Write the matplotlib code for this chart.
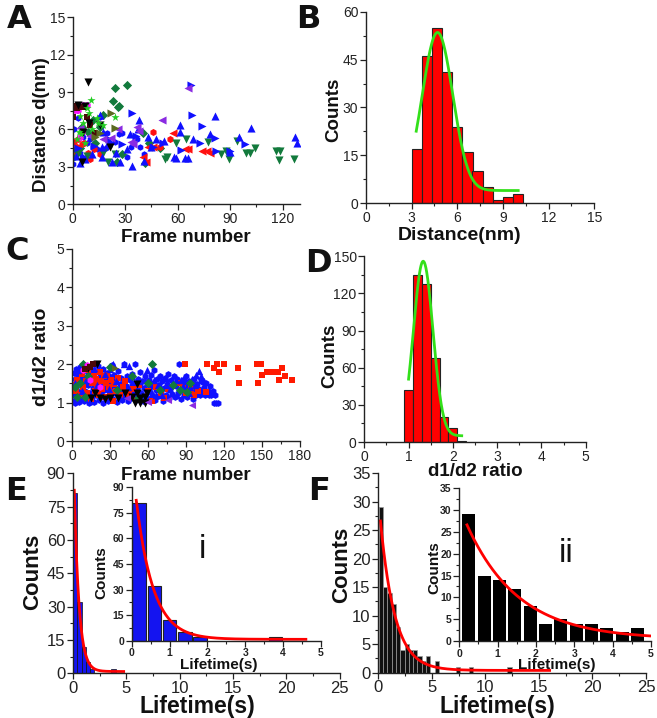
import numpy as np
import matplotlib
matplotlib.use("Agg")
import matplotlib.pyplot as plt
from matplotlib.ticker import MultipleLocator

plt.rcParams['font.family'] = ['Liberation Sans', 'DejaVu Sans']

W, H = 657, 718
fig = plt.figure(figsize=(W / 100, H / 100), dpi=100)

# ---------------- Panel A data (frame number vs distance) ----------------
A_blue_up_x = [34.2, 59.3, 64, 27, 16.5, 22.2, 16.5, 37.4, 37.8, 47.9, 52.5, 57.8, 66, 81.2, 102.1, 127.3, 128.1, 95, 68.8, 61.2, 61.6, 78.3, 89.7, 7, 4.2, 15.6, 17.5, 43.2, 30.8, 45, 25, 40.5, 33, 20, 11, 2]
A_blue_up_y = [3.1, 3.7, 3.7, 3.4, 3.8, 3.4, 4.6, 6.0, 6.8, 5.2, 5.1, 3.8, 3.7, 7.1, 6.1, 5.4, 4.9, 5.4, 5.2, 6.4, 5.8, 5.6, 4.2, 3.6, 3.3, 7.2, 5.8, 5.4, 4.4, 4.6, 4.1, 3.5, 5.6, 4.9, 4.0, 3.9]
A_blue_right_x = [34.2, 67.9, 68.4, 74.1, 81.2, 98.3, 82.1, 89.7, 62.2, 51.7, 72.6, 36, 28, 21, 12, 3, 46]
A_blue_right_y = [7.3, 9.6, 7.2, 6.3, 5.3, 4.8, 4.3, 4.3, 4.35, 4.9, 4.9, 5.5, 4.8, 5.2, 4.7, 4.5, 4.6]
A_blue_dot_x = [0.4, 1.3, 0.8, 2.3, 1.3, 15.6, 26.2, 28, 30.8, 38.4, 36.5, 33.6, 11.8, 13.7, 9.9, 19.4, 21.3, 8, 4.2, 5.1, 0.6, 3, 6, 24, 41, 19]
A_blue_dot_y = [3.2, 3.8, 6.0, 7.6, 7.8, 7.0, 5.6, 5.7, 3.8, 4.6, 5.2, 4.6, 4.6, 4.4, 5.2, 5.7, 4.9, 4.9, 4.1, 3.8, 4.4, 6.9, 5.4, 5.0, 4.0, 4.5]
A_red_dot_x = [3.2, 5.1, 2.3, 8.9, 15.6, 9.9, 46, 49.8, 55.5, 0.5, 1.5, 6.5, 12]
A_red_dot_y = [5.2, 4.8, 4.6, 4.1, 4.0, 3.6, 5.8, 4.6, 5.2, 5.0, 4.3, 4.9, 4.4]
A_red_left_x = [42.2, 43.2, 40.3, 57.4, 65.9, 74.1, 76.8, 78.7, 46, 64]
A_red_left_y = [3.4, 4.6, 3.8, 5.7, 4.4, 4.3, 4.3, 4.1, 4.6, 4.4]
A_green_down_x = [65, 77.3, 85, 89.3, 93.9, 99.2, 101.5, 104, 116.3, 118.8, 117.8, 126.4, 87.8, 20.3, 24.1, 17.5, 52.7, 54, 59.3, 2, 8]
A_green_down_y = [5.2, 5.0, 4.0, 3.6, 5.1, 4.1, 4.1, 4.5, 4.3, 4.3, 3.55, 3.6, 4.3, 3.4, 4.0, 4.1, 3.6, 3.8, 4.9, 4.2, 3.9]
A_green_diam_x = [24, 31, 23, 25.8, 26.5, 17.5, 5.1, 8.9, 12.7, 2.3, 0.4, 40.3, 43.5, 41.3, 25.1, 15.6, 11.8, 4.2, 28, 50]
A_green_diam_y = [9.35, 9.57, 8.3, 7.8, 7.9, 7.2, 6.2, 5.8, 4.9, 4.1, 3.8, 5.7, 4.9, 3.3, 3.4, 6.2, 6.8, 4.5, 4.0, 4.5]
A_purple_left_x = [65.9, 50.8, 36.5, 38, 26, 4.2, 17.5, 33.6, 34.6, 10, 22]
A_purple_left_y = [9.3, 6.8, 6.2, 5.9, 6.0, 6.1, 5.2, 5.0, 4.8, 5.5, 5.3]
A_magenta_x = [2.7, 6.1, 3.2, 1.3, 5.1, 4.2, 8]
A_magenta_y = [8.0, 8.0, 7.6, 7.6, 5.8, 5.4, 8.0]
A_black_down_x = [8.7, 3.2, 7, 21.3, 5.3, 15.6, 6.1, 9.5]
A_black_down_y = [9.8, 8.0, 7.9, 4.6, 3.4, 6.4, 5.8, 6.5]
A_maroon_x = [0.4, 2.7, 6.1, 8, 12.7, 9.9, 1.5]
A_maroon_y = [7.0, 7.7, 7.8, 7.0, 5.7, 6.4, 7.9]
A_star_x = [10.3, 8.4, 9.5, 4.2, 6.1, 13.7, 24.1, 2.3, 7, 3.6, 14.6, 17.5, 11, 5]
A_star_y = [8.4, 7.7, 7.3, 7.1, 6.5, 6.9, 7.0, 5.2, 4.9, 5.8, 6.5, 6.4, 6.0, 5.6]
A_olive_right_x = [21.9, 12.7, 24.1, 15.6]
A_olive_right_y = [7.3, 5.4, 6.1, 5.7]

# ---------------- Panel B data (distance histogram) ----------------
B_centers = [3.33, 4.0, 4.67, 5.33, 6.0, 6.67, 7.33, 8.0, 8.67, 9.33, 10.0]
B_counts = [17, 46, 55, 41, 24, 16, 10, 5, 1, 2, 3]
B_fit = dict(y0=4.0, A=49.5, xc=4.7, sigma=1.0, xmin=3.3, xmax=10.0)

# ---------------- Panel C data (frame number vs d1/d2 ratio) ----------------
C_blue_dot = [(0.5,1.05),(0.8,1.42),(1.2,1.78),(1.6,1.2),(2.1,1.62),(2.5,1.0),(3.0,1.33),(3.4,1.88),(3.9,1.15),(4.3,1.5),(4.8,1.72),(5.2,1.02),(5.7,1.28),(6.1,1.58),(6.6,1.93),(7.0,1.1),(7.5,1.4),(8.0,1.68),(8.4,1.22),(8.9,1.83),(9.3,1.05),(9.8,1.47),
              (10.3,1.3),(10.8,1.62),(11.3,1.95),(11.8,1.12),(12.4,1.45),(12.9,1.75),(13.5,1.0),(14.0,1.25),(14.6,1.55),(15.1,1.85),(15.7,1.15),(16.2,1.38),(16.8,1.68),(17.3,1.02),(17.9,1.48),(18.5,1.8),(19.0,1.2),(19.6,1.6),(20.1,1.35),(20.7,1.95),(21.3,1.08),(21.9,1.42),(22.4,1.72),(23.0,1.25),(23.6,1.55),(24.2,1.0),(24.8,1.88),(25.4,1.32),(26.0,1.62),(26.6,1.15),(27.2,1.45),(27.8,1.78),(28.4,1.05),(29.0,1.38),(29.6,1.68),
              (30.2,1.2),(30.9,1.52),(31.5,1.98),(32.1,1.1),(32.8,1.4),(33.4,1.72),(34.1,1.25),(34.7,1.58),(35.4,1.02),(36.0,1.35),(36.7,1.82),(37.3,1.15),(38.0,1.48),(38.7,1.65),(39.3,1.08),(40.0,1.3),(40.7,1.55),(41.4,2.0),(42.1,1.18),(42.8,1.42),(43.5,1.7),(44.2,1.05),(44.9,1.28),(45.6,1.6),(46.3,1.12),(47.0,1.45),(47.7,1.75),(48.4,1.22),(49.1,1.52),(49.8,2.0),(50.5,1.08),(51.2,1.35),(51.9,1.62),(52.6,1.18),(53.3,1.45),(54.0,1.8),(54.7,1.25),(55.4,1.55),(56.1,1.05),(56.8,1.38),(57.5,1.68),(58.2,1.15),(58.9,1.48),(59.6,1.28),
              (60.4,1.6),(61.1,1.1),(61.9,1.4),(62.6,1.72),(63.4,1.2),(64.1,1.5),(64.9,1.85),(65.6,1.08),(66.4,1.32),(67.1,1.62),(67.9,1.18),(68.7,1.45),(69.4,1.7),(70.2,1.25),(71.0,1.55),(71.8,1.05),(72.5,1.38),(73.3,1.65),(74.1,1.2),(74.9,1.48),(75.7,1.75),(76.5,1.12),(77.3,1.35),(78.1,1.58),(78.9,1.22),(79.7,1.45),(80.5,1.7),(81.3,1.15),(82.1,1.42),(82.9,1.62),(83.7,1.25),(84.5,2.0),(85.3,1.5),(86.1,1.1),(86.9,1.32),(87.7,1.6),(88.5,1.2),(89.3,1.42),
              (90.2,1.7),(91.0,1.15),(91.9,1.35),(92.7,1.55),(93.6,1.25),(94.5,1.45),(95.3,1.1),(96.2,1.62),(97.1,1.3),(98.0,1.2),(99.0,1.48),(100.0,1.35),(101.0,1.2),(102.0,1.55),(103.0,1.28),(104.0,1.4),(105.0,1.2),(106.0,1.5),(107.0,1.3),(108.0,1.2),(109.0,1.42),(110.0,1.2),(111.0,1.3),(112.0,1.0),(113.0,1.2),(114.0,1.0),(115.0,1.0)]
C_blue_up = [(2,1.5),(5,1.85),(8,1.3),(11,1.6),(14,1.05),(17,1.9),(20,1.45),(23,1.2),(26,1.75),(29,1.35),(32,2.0),(35,1.55),(38,1.15),(41,2.0),(44,1.4),(47,1.7),(50,1.25),(53,1.55),(56,1.1),(59,1.85),(62,1.3),(65,1.6),(68,1.45),(71,1.2),(74,1.65),(77,1.35),(80,1.5),(83,1.2),(86,1.6),(88,1.42),(90,1.55),(92,1.25),(95,1.62),(98,1.72),(100,1.82),(102,1.7),(104,1.55),(97,1.45),(93,1.4),(13,1.95),(30,1.88),(45,1.95),(58,1.6),(66,1.2),(75,1.45),(82,1.58),(88,1.62)]
C_red_sq = [(1,1.45),(3,1.3),(4,1.6),(6,1.2),(8,1.75),(9,1.4),(11,1.55),(12,1.25),(13,1.85),(15,1.1),(16,1.5),(17,1.7),(18,1.3),(19,1.62),(20,1.45),(21,1.2),(22,1.8),(23,1.55),(24,1.35),(25,1.68),(26,1.15),(27,1.5),(28,1.72),(29,1.4),(30,1.25),(31,1.6),(32,1.05),(33,1.48),(35,1.3),(36,1.65),(38,1.2),(40,1.4),(42,1.55),(45,1.22),(48,1.35),(50,1.15),(53,1.45),(56,1.1),(60,1.3),(63,1.05),(66,1.4),(70,1.25),(73,1.12),(76,1.35),(85,1.52),(88,1.45),(90,1.25),(94,1.35),(96,1.2),(99.7,1.31),
            (89.2,2.0),(106.8,2.0),(114.2,2.0),(120.3,2.0),(112.1,1.9),(116.3,1.8),(106,1.28),(131.3,1.9),(132,1.5),(145.8,2.0),(149,2.0),(149.8,1.72),(146.6,1.5),(153.7,1.8),(157,1.8),(160.3,1.8),(162.4,1.8),(165.5,1.9),(163.4,1.6),(168.2,1.7),(173.4,1.6)]
C_black_down = [(18.1,1.24),(26,1.09),(36.6,1.11),(41.8,1.24),(51,1.48),(49.7,1.0),(53.7,1.0),(57.6,1.0),(51,1.24),(53.7,1.11),(59,1.24),(30,1.11),(19.5,2.0),(12.9,1.9),(22.1,1.11),(15.3,1.11),(47.4,1.15),(57.3,1.15)]
C_green_diam = [(9,2.0),(62.9,2.0),(85.2,1.33),(93,1.5),(90.5,1.28),(69.4,1.33),(60.2,1.5),(12.9,1.7),(2.4,1.41),(3.7,1.15),(30,1.94),(47,1.68),(52.3,1.11),(35.2,1.33),(10.3,1.15),(80,1.46),(6.3,1.5)]
C_magenta = [(12.1,1.98),(8.9,1.85),(14.2,1.59),(22,1.41)]
C_purple_left = [(94.4,0.94),(76,1.07),(60.2,1.02),(43.1,1.11)]
C_maroon = [(16.8,2.0),(10.3,1.87),(14.2,1.94)]
C_olive_right = [(34,1.9)]

# ---------------- Panel D data (ratio histogram) ----------------
D_centers = [1.0, 1.2, 1.4, 1.6, 1.8, 2.0, 2.2]
D_counts = [42, 135, 128, 68, 20, 11, 1]
D_fit = dict(y0=5.0, A=141.0, xc=1.33, sigma=0.22, xmin=1.0, xmax=2.2)

# ---------------- Panel E data (lifetime histogram, blue) ----------------
E_centers = [0.2, 0.6, 1.0, 1.4, 1.8, 3.8]
E_counts = [81, 32, 12, 5, 2, 2]
E_fit = dict(y0=0.8, A=106.5, tau=0.45, xmin=0.12, xmax_main=4.75, xmax_inset=4.6)

# ---------------- Panel F data (lifetime histogram, black) ----------------
F_centers = [0.25, 0.65, 1.05, 1.45, 1.85, 2.25, 2.65, 3.05, 3.45, 3.85, 4.25, 4.65, 5.45, 7.45, 8.65, 12.25]
F_counts = [29, 15, 14, 12, 8, 4, 5, 4, 4, 3, 2, 3, 2, 1, 1, 1]
F_fit = dict(y0=0.4, A=30.4, tau=1.35, xmin=0.2, xmax_main=16.0, xmax_inset=5.0)


def px_axes(l, r, t, b):
    return fig.add_axes([l / W, 1 - b / H, (r - l) / W, (b - t) / H])


def style(ax, xmaj, xmin, ymaj, ymin, fs, bold=False, xlim=None, ylim=None):
    for s in ['top', 'right']:
        ax.spines[s].set_visible(False)
    for s in ['left', 'bottom']:
        ax.spines[s].set_linewidth(1.0)
        ax.spines[s].set_color('#222222')
    ax.xaxis.set_major_locator(MultipleLocator(xmaj))
    ax.xaxis.set_minor_locator(MultipleLocator(xmin))
    ax.yaxis.set_major_locator(MultipleLocator(ymaj))
    ax.yaxis.set_minor_locator(MultipleLocator(ymin))
    ax.tick_params(which='major', direction='out', length=4, width=0.9, labelsize=fs, pad=1.5, colors='#222222')
    ax.tick_params(which='minor', direction='out', length=2.3, width=0.8, colors='#222222')
    if bold:
        for lab in ax.get_xticklabels() + ax.get_yticklabels():
            lab.set_fontweight('bold')
    ax.set_xlim(*xlim)
    ax.set_ylim(*ylim)
    ax.set_facecolor('none')


def ftext(x, y, s, **kw):
    fig.text(x / W, 1 - y / H, s, ha='center', va='center', **kw)


def gauss(p, n=200):
    x = np.linspace(p['xmin'], p['xmax'], n)
    return x, p['y0'] + p['A'] * np.exp(-(x - p['xc']) ** 2 / (2 * p['sigma'] ** 2))


def expdec(p, xmax, n=300):
    x = np.linspace(p['xmin'], xmax, n)
    return x, p['y0'] + p['A'] * np.exp(-x / p['tau'])


# ================= Panel A =================
axA = px_axes(72.7, 300, 17.3, 204.3)
sA = 34
axA.scatter(A_blue_dot_x, A_blue_dot_y, marker='h', s=22, c='#1010ff', lw=0)
axA.scatter(A_green_diam_x, A_green_diam_y, marker='D', s=22, c='#127a3c', lw=0)
axA.scatter(A_red_dot_x, A_red_dot_y, marker='h', s=26, c='#ff1010', lw=0)
axA.scatter(A_red_left_x, A_red_left_y, marker='<', s=sA, c='#ff1010', lw=0)
axA.scatter(A_green_down_x, A_green_down_y, marker='v', s=sA, c='#127a3c', lw=0)
axA.scatter(A_blue_right_x, A_blue_right_y, marker='>', s=sA, c='#1010ff', lw=0)
axA.scatter(A_blue_up_x, A_blue_up_y, marker='^', s=sA, c='#1010ff', lw=0)
axA.scatter(A_purple_left_x, A_purple_left_y, marker='<', s=sA, c='#8a2be2', lw=0)
axA.scatter(A_magenta_x, A_magenta_y, marker='h', s=28, c='#ff10ff', lw=0)
axA.scatter(A_maroon_x, A_maroon_y, marker='s', s=22, c='#4a0808', lw=0)
axA.scatter(A_black_down_x, A_black_down_y, marker='v', s=sA, c='black', lw=0)
axA.scatter(A_star_x, A_star_y, marker='*', s=38, c='#22cc22', lw=0)
axA.scatter(A_olive_right_x, A_olive_right_y, marker='>', s=sA, c='#5a6a20', lw=0)
style(axA, 30, 15, 3, 1.5, 10, xlim=(0, 130), ylim=(0, 15))

# ================= Panel B =================
axB = px_axes(366, 594.3, 11.7, 203.3)
axB.bar(B_centers, B_counts, width=0.667, color='#ff0000', edgecolor='#222222', lw=0.8)
gx, gy = gauss(B_fit)
axB.plot(gx, gy, color='#33e01a', lw=2.0)
style(axB, 3, 1.5, 15, 7.5, 10, xlim=(0, 15), ylim=(0, 60))

# ================= Panel C =================
axC = px_axes(72, 300, 249, 441)
def sc(ax, pts, **kw):
    ax.scatter([p[0] for p in pts], [p[1] for p in pts], lw=0, **kw)
sc(axC, C_blue_dot, marker='h', s=24, c='#1010ff')
sc(axC, C_red_sq, marker='s', s=20, c='#ff1a00')
sc(axC, C_blue_up, marker='^', s=28, c='#1010ff')
sc(axC, C_green_diam, marker='D', s=22, c='#127a3c')
sc(axC, C_black_down, marker='v', s=34, c='black')
sc(axC, C_magenta, marker='h', s=24, c='#ff10ff')
sc(axC, C_purple_left, marker='<', s=26, c='#8a2be2')
sc(axC, C_maroon, marker='s', s=24, c='#4a0808')
sc(axC, C_olive_right, marker='>', s=26, c='#5a6a20')
style(axC, 30, 15, 1, 0.5, 10, xlim=(0, 180), ylim=(0, 5))

# ================= Panel D =================
axD = px_axes(364.3, 585.7, 256.3, 442)
axD.bar(D_centers, D_counts, width=0.2, color='#ff0000', edgecolor='#222222', lw=0.8)
gx, gy = gauss(D_fit)
axD.plot(gx, gy, color='#33e01a', lw=2.0)
style(axD, 1, 0.5, 30, 15, 10, xlim=(0, 5), ylim=(0, 150))

# ================= Panel E =================
axE = px_axes(73, 339.7, 473.3, 673.3)
axE.bar(E_centers, E_counts, width=0.4, color='#1414f0', edgecolor='#111111', lw=0.5)
ex, ey = expdec(E_fit, E_fit['xmax_main'])
axE.plot(ex, ey, color='#ff0000', lw=2.0)
style(axE, 5, 2.5, 15, 7.5, 12, xlim=(0, 25), ylim=(0, 90))

axEi = px_axes(131.7, 321, 487.3, 640.7)
axEi.bar(E_centers, E_counts, width=0.36, color='#1414f0', edgecolor='#222222', lw=0.8)
ex, ey = expdec(E_fit, E_fit['xmax_inset'])
axEi.plot(ex, ey, color='#ff0000', lw=2.0)
style(axEi, 1, 0.5, 15, 7.5, 7.5, bold=True, xlim=(0, 5), ylim=(0, 90))

# ================= Panel F =================
axF = px_axes(378.3, 646, 473.2, 672.7)
axF.bar(F_centers, F_counts, width=0.4, color='#111111', edgecolor='#9a9a9a', lw=0.5)
fx, fy = expdec(F_fit, F_fit['xmax_main'])
axF.plot(fx, fy, color='#ff0000', lw=2.0)
style(axF, 5, 2.5, 5, 2.5, 12, xlim=(0, 25), ylim=(0, 35))

axFi = px_axes(459.3, 651, 488.3, 641)
axFi.bar(F_centers, F_counts, width=0.34, color='#000000', edgecolor='none')
fx, fy = expdec(F_fit, F_fit['xmax_inset'])
axFi.plot(fx, fy, color='#ff0000', lw=2.0)
style(axFi, 1, 0.5, 5, 2.5, 7.5, bold=True, xlim=(0, 5), ylim=(0, 35))

# ================= Labels =================
bl = dict(fontweight='bold', color='#111111')
ftext(41, 125, 'Distance d(nm)', rotation=90, fontsize=13.5, **bl)
ftext(186, 237, 'Frame number', fontsize=13.5, **bl)
ftext(334, 110, 'Counts', rotation=90, fontsize=13.5, **bl)
ftext(460, 236, 'Distance(nm)', fontsize=14, **bl)
ftext(42, 357, 'd1/d2 ratio', rotation=90, fontsize=14, **bl)
ftext(186, 476, 'Frame number', fontsize=13.5, **bl)
ftext(330, 356, 'Counts', rotation=90, fontsize=13.5, **bl)
ftext(475, 471, 'd1/d2 ratio', fontsize=13.5, **bl)
ftext(33, 572, 'Counts', rotation=90, fontsize=16, **bl)
ftext(197, 706, 'Lifetime(s)', fontsize=16.5, **bl)
ftext(101, 573, 'Counts', rotation=90, fontsize=11, **bl)
ftext(219, 665, 'Lifetime(s)', fontsize=11, **bl)
ftext(342, 565, 'Counts', rotation=90, fontsize=16, **bl)
ftext(497, 706, 'Lifetime(s)', fontsize=16.5, **bl)
ftext(434, 568, 'Counts', rotation=90, fontsize=11, **bl)
ftext(557, 665, 'Lifetime(s)', fontsize=11, **bl)
ftext(202, 550, 'i', fontsize=24, color='#111111')
ftext(566, 553, 'ii', fontsize=24, color='#111111')

pl = dict(fontweight='bold', fontsize=23, family=['DejaVu Sans'], color='#111111')
ftext(19, 20, 'A', **pl)
ftext(308, 20, 'B', **pl)
ftext(17, 251, 'C', **pl)
ftext(318, 264, 'D', **pl)
ftext(16, 491, 'E', **pl)
ftext(319, 491, 'F', **pl)

fig.savefig('out.png', dpi=100)
